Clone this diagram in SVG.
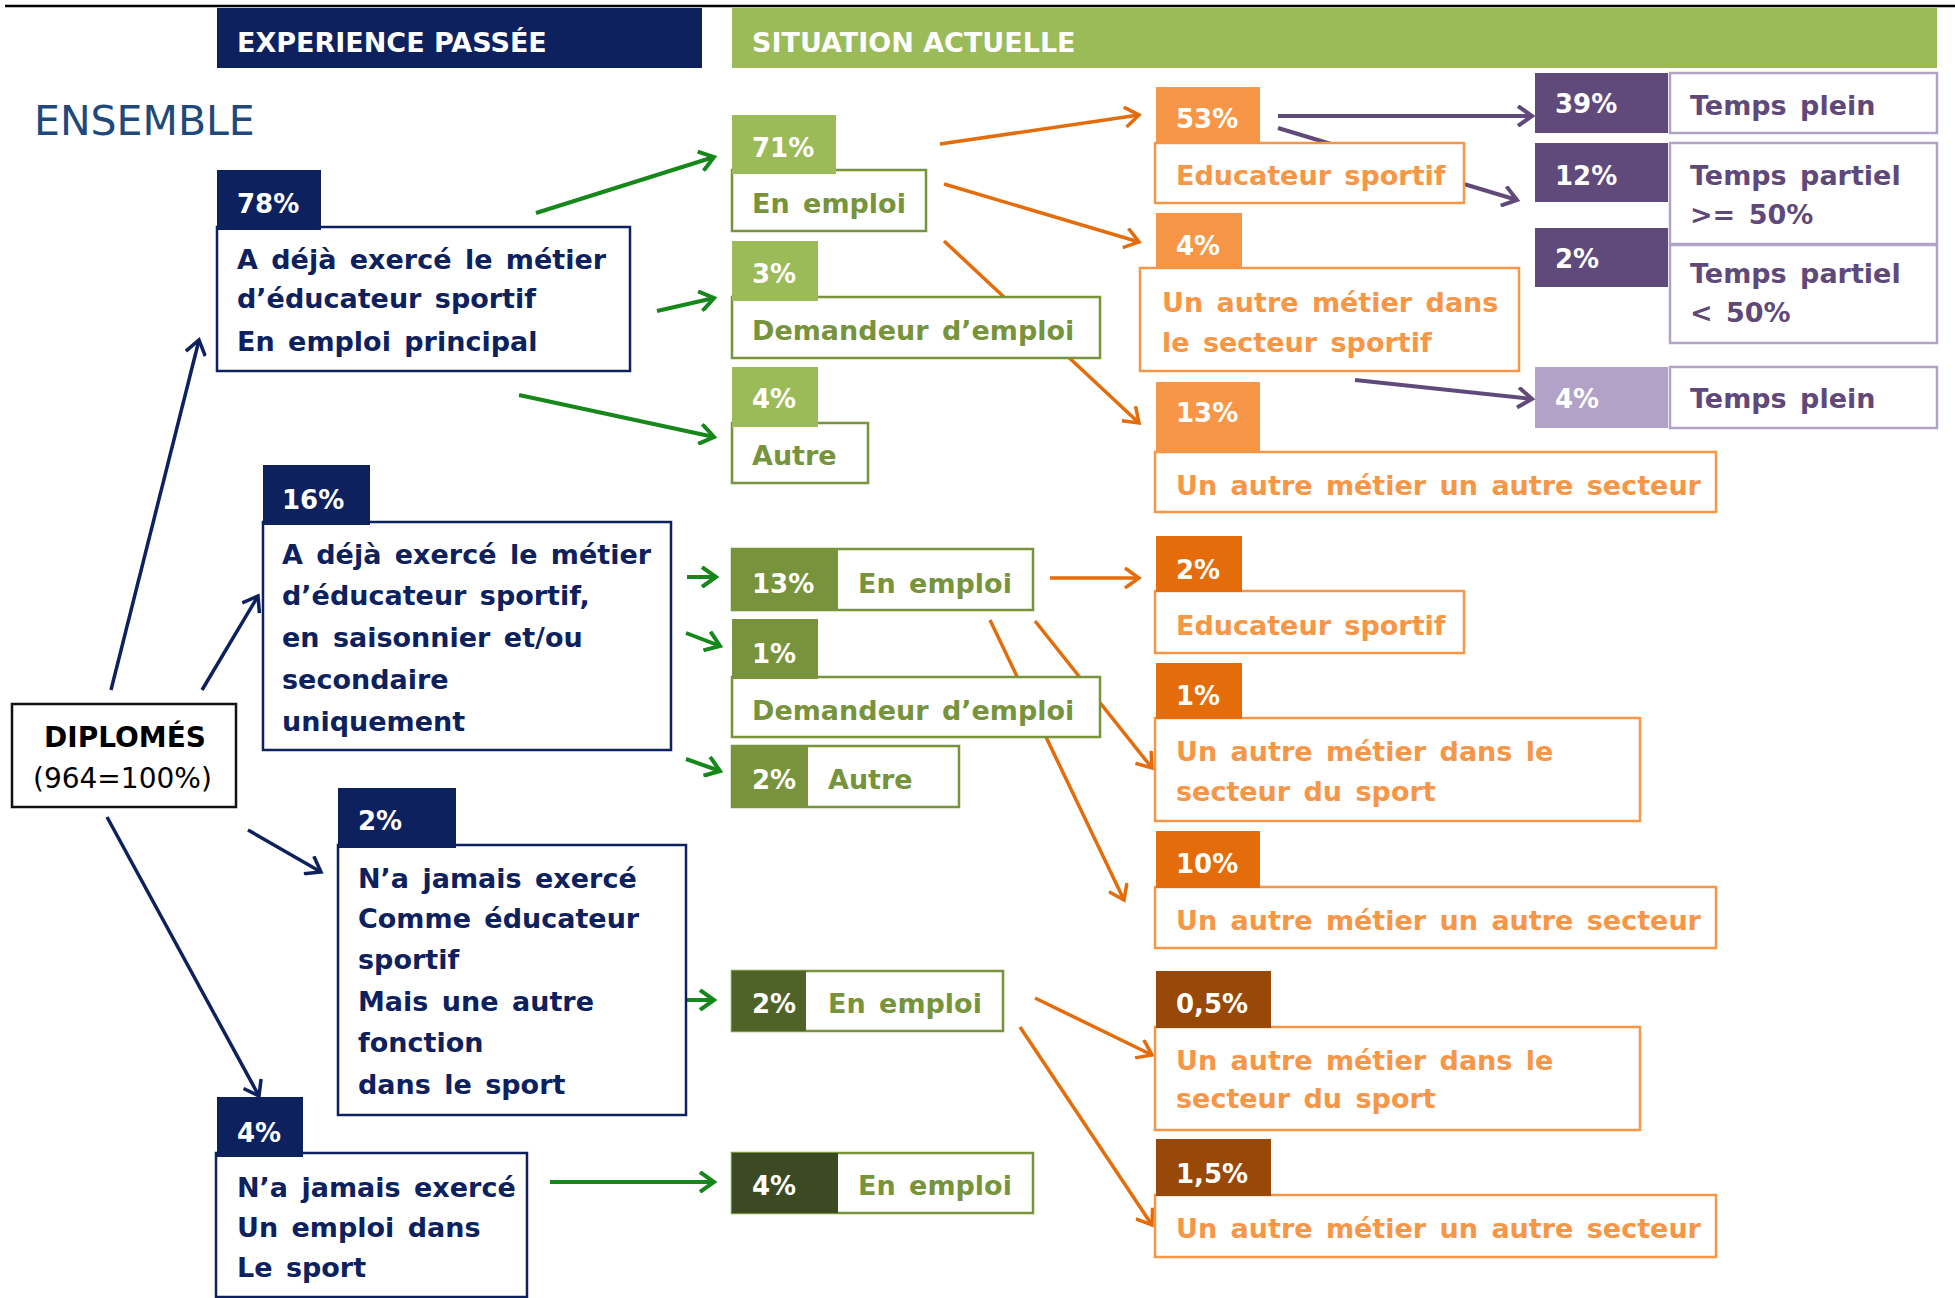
<svg xmlns="http://www.w3.org/2000/svg" width="1955" height="1298" viewBox="0 0 1955 1298">
<style>
text{font-family:"DejaVu Sans",sans-serif;}
.b{font-weight:bold;}
.hd{font-weight:bold;font-size:27px;fill:#fff;}
.lab{font-weight:bold;font-size:26px;fill:#fff;}
.t{font-weight:bold;font-size:27px;word-spacing:4px;}
.tn{fill:#0d215e;}
.tg{fill:#77933c;}
.to{fill:#f79646;}
.tp{fill:#5f497a;}
.bn{fill:#fff;stroke:#0d215e;stroke-width:2.5;}
.bg{fill:#fff;stroke:#77933c;stroke-width:2.5;}
.bo{fill:#fff;stroke:#f79646;stroke-width:2.5;}
.bp{fill:#fff;stroke:#b3a2c7;stroke-width:2.5;}
.ln{fill:#0d215e;}
.lg1{fill:#9bbb59;}
.lg2{fill:#77933c;}
.lg3{fill:#4f6228;}
.lg4{fill:#3b4a22;}
.lo1{fill:#f79646;}
.lo2{fill:#e46c0a;}
.lo3{fill:#984807;}
.lp1{fill:#604a7b;}
.lp2{fill:#b3a2c7;}
.cn{fill:none;stroke:#0d215e;stroke-width:3.5;}
.cg{fill:none;stroke:#16871a;stroke-width:4;}
.co{fill:none;stroke:#e46c0a;stroke-width:3.5;}
.cp{fill:none;stroke:#604a7b;stroke-width:4;}
</style>
<defs>
<marker id="mN" viewBox="0 0 22 22" refX="18" refY="11" markerWidth="22" markerHeight="22" markerUnits="userSpaceOnUse" orient="auto"><path d="M4,1 L18,11 L4,21" fill="none" stroke="#0d215e" stroke-width="3.5"/></marker>
<marker id="mG" viewBox="0 0 22 22" refX="18" refY="11" markerWidth="22" markerHeight="22" markerUnits="userSpaceOnUse" orient="auto"><path d="M4,1 L18,11 L4,21" fill="none" stroke="#16871a" stroke-width="4"/></marker>
<marker id="mO" viewBox="0 0 22 22" refX="18" refY="11" markerWidth="22" markerHeight="22" markerUnits="userSpaceOnUse" orient="auto"><path d="M4,1 L18,11 L4,21" fill="none" stroke="#e46c0a" stroke-width="3.5"/></marker>
<marker id="mP" viewBox="0 0 22 22" refX="18" refY="11" markerWidth="22" markerHeight="22" markerUnits="userSpaceOnUse" orient="auto"><path d="M4,1 L18,11 L4,21" fill="none" stroke="#604a7b" stroke-width="4"/></marker>
</defs>
<rect width="1955" height="1298" fill="#fff"/>

<g id="header">
<line x1="5" y1="6" x2="1955" y2="6" stroke="#000" stroke-width="2.5"/>
<rect x="217" y="8" width="485" height="60" class="ln"/>
<text x="237" y="52" class="hd">EXPERIENCE PASSÉE</text>
<rect x="732" y="8" width="1205" height="60" class="lg1"/>
<text x="752" y="52" class="hd">SITUATION ACTUELLE</text>
<text x="34" y="135" font-size="41" fill="#1f497d">ENSEMBLE</text>
</g>

<g id="connectors">
<path class="cn" marker-end="url(#mN)" d="M111,690 L199,340"/>
<path class="cn" marker-end="url(#mN)" d="M202,690 L258,596"/>
<path class="cn" marker-end="url(#mN)" d="M248,830 L321,872"/>
<path class="cn" marker-end="url(#mN)" d="M107,817 L259,1096"/>
<path class="cg" marker-end="url(#mG)" d="M536,213 L714,157"/>
<path class="cg" marker-end="url(#mG)" d="M657,311 L714,298"/>
<path class="cg" marker-end="url(#mG)" d="M519,395 L714,437"/>
<path class="cg" marker-end="url(#mG)" d="M687,577 L716,577"/>
<path class="cg" marker-end="url(#mG)" d="M686,633 L720,646"/>
<path class="cg" marker-end="url(#mG)" d="M686,759 L720,771"/>
<path class="cg" marker-end="url(#mG)" d="M671,1000 L714,1000"/>
<path class="cg" marker-end="url(#mG)" d="M550,1182 L714,1182"/>
<path class="co" marker-end="url(#mO)" d="M940,144 L1139,115"/>
<path class="co" marker-end="url(#mO)" d="M944,184 L1139,242"/>
<path class="co" marker-end="url(#mO)" d="M944,241 L1139,423"/>
<path class="co" marker-end="url(#mO)" d="M1050,578 L1139,578"/>
<path class="co" marker-end="url(#mO)" d="M1035,621 L1152,768"/>
<path class="co" marker-end="url(#mO)" d="M990,620 L1124,900"/>
<path class="co" marker-end="url(#mO)" d="M1035,998 L1152,1055"/>
<path class="co" marker-end="url(#mO)" d="M1020,1027 L1152,1225"/>
<path class="cp" marker-end="url(#mP)" d="M1278,116 L1532,116"/>
<path class="cp" marker-end="url(#mP)" d="M1278,128 L1517,200"/>
<path class="cp" marker-end="url(#mP)" d="M1355,380 L1532,399"/>
</g>

<g id="diplomes">
<rect x="12" y="704" width="224" height="103" fill="#fff" stroke="#111" stroke-width="2.5"/>
<text x="44" y="747" class="b" font-size="28" fill="#000">DIPLOMÉS</text>
<text x="33" y="788" font-size="28" fill="#000">(964=100%)</text>
</g>

<g id="n78">
<rect x="217" y="227" width="413" height="144" class="bn"/>
<rect x="217" y="170" width="104" height="60" class="ln"/>
<text x="237" y="213" class="lab">78%</text>
<text class="t tn"><tspan x="237" y="269">A déjà exercé le métier</tspan><tspan x="237" y="308">d’éducateur sportif</tspan><tspan x="237" y="351">En emploi principal</tspan></text>
</g>

<g id="n16">
<rect x="263" y="522" width="408" height="228" class="bn"/>
<rect x="263" y="465" width="107" height="60" class="ln"/>
<text x="282" y="509" class="lab">16%</text>
<text class="t tn"><tspan x="282" y="564">A déjà exercé le métier</tspan><tspan x="282" y="605">d’éducateur sportif,</tspan><tspan x="282" y="647">en saisonnier et/ou</tspan><tspan x="282" y="689">secondaire</tspan><tspan x="282" y="731">uniquement</tspan></text>
</g>

<g id="n2">
<rect x="338" y="845" width="348" height="270" class="bn"/>
<rect x="338" y="788" width="118" height="60" class="ln"/>
<text x="358" y="830" class="lab">2%</text>
<text class="t tn"><tspan x="358" y="888">N’a jamais exercé</tspan><tspan x="358" y="928">Comme éducateur</tspan><tspan x="358" y="969">sportif</tspan><tspan x="358" y="1011">Mais une autre</tspan><tspan x="358" y="1052">fonction</tspan><tspan x="358" y="1094">dans le sport</tspan></text>
</g>

<g id="n4">
<rect x="216" y="1153" width="311" height="144" class="bn"/>
<rect x="217" y="1097" width="86" height="60" class="ln"/>
<text x="237" y="1142" class="lab">4%</text>
<text class="t tn"><tspan x="237" y="1197">N’a jamais exercé</tspan><tspan x="237" y="1237">Un emploi dans</tspan><tspan x="237" y="1277">Le sport</tspan></text>
</g>

<g id="g71">
<rect x="732" y="170" width="194" height="61" class="bg"/>
<rect x="732" y="115" width="104" height="59" class="lg1"/>
<text x="752" y="157" class="lab">71%</text>
<text x="752" y="213" class="t tg">En emploi</text>
</g>
<g id="g3">
<rect x="732" y="297" width="368" height="61" class="bg"/>
<rect x="732" y="241" width="86" height="60" class="lg1"/>
<text x="752" y="283" class="lab">3%</text>
<text x="752" y="340" class="t tg">Demandeur d’emploi</text>
</g>
<g id="g4">
<rect x="732" y="423" width="136" height="60" class="bg"/>
<rect x="732" y="367" width="86" height="60" class="lg1"/>
<text x="752" y="408" class="lab">4%</text>
<text x="752" y="465" class="t tg">Autre</text>
</g>

<g id="g13">
<rect x="732" y="549" width="301" height="61" class="bg"/>
<rect x="732" y="549" width="106" height="61" class="lg2"/>
<text x="752" y="593" class="lab">13%</text>
<text x="858" y="593" class="t tg">En emploi</text>
</g>
<g id="g1">
<rect x="732" y="677" width="368" height="60" class="bg"/>
<rect x="732" y="619" width="86" height="60" class="lg2"/>
<text x="752" y="663" class="lab">1%</text>
<text x="752" y="720" class="t tg">Demandeur d’emploi</text>
</g>
<g id="g2">
<rect x="732" y="746" width="227" height="61" class="bg"/>
<rect x="732" y="746" width="76" height="61" class="lg2"/>
<text x="752" y="789" class="lab">2%</text>
<text x="828" y="789" class="t tg">Autre</text>
</g>
<g id="g2b">
<rect x="732" y="971" width="271" height="60" class="bg"/>
<rect x="732" y="971" width="74" height="60" class="lg3"/>
<text x="752" y="1013" class="lab">2%</text>
<text x="828" y="1013" class="t tg">En emploi</text>
</g>
<g id="g4b">
<rect x="732" y="1153" width="301" height="60" class="bg"/>
<rect x="732" y="1153" width="106" height="60" class="lg4"/>
<text x="752" y="1195" class="lab">4%</text>
<text x="858" y="1195" class="t tg">En emploi</text>
</g>

<g id="o53">
<rect x="1155" y="143" width="309" height="60" class="bo"/>
<rect x="1156" y="87" width="104" height="57" class="lo1"/>
<text x="1176" y="128" class="lab">53%</text>
<text x="1176" y="185" class="t to">Educateur sportif</text>
</g>
<g id="o4">
<rect x="1140" y="268" width="379" height="103" class="bo"/>
<rect x="1156" y="213" width="86" height="56" class="lo1"/>
<text x="1176" y="255" class="lab">4%</text>
<text class="t to"><tspan x="1162" y="312">Un autre métier dans</tspan><tspan x="1162" y="352">le secteur sportif</tspan></text>
</g>
<g id="o13">
<rect x="1155" y="452" width="561" height="60" class="bo"/>
<rect x="1156" y="382" width="104" height="71" class="lo1"/>
<text x="1176" y="422" class="lab">13%</text>
<text x="1176" y="495" class="t to">Un autre métier un autre secteur</text>
</g>
<g id="o2">
<rect x="1155" y="591" width="309" height="62" class="bo"/>
<rect x="1156" y="536" width="86" height="56" class="lo2"/>
<text x="1176" y="579" class="lab">2%</text>
<text x="1176" y="635" class="t to">Educateur sportif</text>
</g>
<g id="o1">
<rect x="1155" y="718" width="485" height="103" class="bo"/>
<rect x="1156" y="663" width="86" height="56" class="lo2"/>
<text x="1176" y="705" class="lab">1%</text>
<text class="t to"><tspan x="1176" y="761">Un autre métier dans le</tspan><tspan x="1176" y="801">secteur du sport</tspan></text>
</g>
<g id="o10">
<rect x="1155" y="887" width="561" height="61" class="bo"/>
<rect x="1156" y="831" width="104" height="57" class="lo2"/>
<text x="1176" y="873" class="lab">10%</text>
<text x="1176" y="930" class="t to">Un autre métier un autre secteur</text>
</g>
<g id="o05">
<rect x="1155" y="1027" width="485" height="103" class="bo"/>
<rect x="1156" y="971" width="115" height="57" class="lo3"/>
<text x="1176" y="1013" class="lab">0,5%</text>
<text class="t to"><tspan x="1176" y="1070">Un autre métier dans le</tspan><tspan x="1176" y="1108">secteur du sport</tspan></text>
</g>
<g id="o15">
<rect x="1155" y="1195" width="561" height="62" class="bo"/>
<rect x="1156" y="1139" width="115" height="57" class="lo3"/>
<text x="1176" y="1183" class="lab">1,5%</text>
<text x="1176" y="1238" class="t to">Un autre métier un autre secteur</text>
</g>

<g id="p39">
<rect x="1670" y="73" width="267" height="60" class="bp"/>
<rect x="1535" y="73" width="133" height="60" class="lp1"/>
<text x="1555" y="113" class="lab">39%</text>
<text x="1690" y="115" class="t tp">Temps plein</text>
</g>
<g id="p12">
<rect x="1670" y="143" width="267" height="101" class="bp"/>
<rect x="1535" y="143" width="133" height="59" class="lp1"/>
<text x="1555" y="185" class="lab">12%</text>
<text class="t tp"><tspan x="1690" y="185">Temps partiel</tspan><tspan x="1690" y="224">&gt;= 50%</tspan></text>
</g>
<g id="p2">
<rect x="1670" y="245" width="267" height="98" class="bp"/>
<rect x="1535" y="228" width="133" height="59" class="lp1"/>
<text x="1555" y="268" class="lab">2%</text>
<text class="t tp"><tspan x="1690" y="283">Temps partiel</tspan><tspan x="1690" y="322">&lt; 50%</tspan></text>
</g>
<g id="p4">
<rect x="1670" y="367" width="267" height="61" class="bp"/>
<rect x="1535" y="367" width="133" height="61" class="lp2"/>
<text x="1555" y="408" class="lab">4%</text>
<text x="1690" y="408" class="t tp">Temps plein</text>
</g>
</svg>
